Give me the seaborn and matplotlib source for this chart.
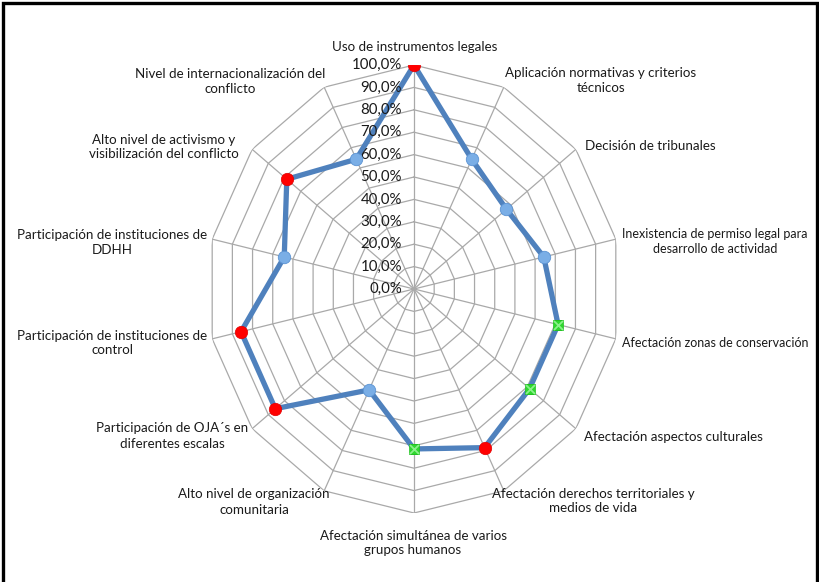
import numpy as np
import pandas as pd
import matplotlib
matplotlib.use("Agg")
import matplotlib.pyplot as plt
import matplotlib.transforms as mtransforms
from matplotlib.patches import Rectangle
import seaborn as sns

# Indicators, clockwise from the top
categories = [
    "Uso de instrumentos legales",
    "Aplicación normativas y criterios\ntécnicos",
    "Decisión de tribunales",
    "Inexistencia de permiso legal para\ndesarrollo de actividad",
    "Afectación zonas de conservación",
    "Afectación aspectos culturales",
    "Afectación derechos territoriales y\nmedios de vida",
    "Afectación simultánea de varios\ngrupos humanos",
    "Alto nivel de organización\ncomunitaria",
    "Participación de OJA´s en\ndiferentes escalas",
    "Participación de instituciones de\ncontrol",
    "Participación de instituciones de\nDDHH",
    "Alto nivel de activismo y\nvisibilización del conflicto",
    "Nivel de internacionalización del\nconflicto",
]
# share of cases (k / 14)
values = [1.000, 0.643, 0.571, 0.643, 0.714, 0.714, 0.786,
          0.714, 0.500, 0.857, 0.857, 0.643, 0.786, 0.643]
# marker class per indicator: high / medium / low
levels = ["alto", "bajo", "bajo", "bajo", "medio", "medio", "alto",
          "medio", "bajo", "alto", "alto", "bajo", "alto", "bajo"]
ring_values = [0.0, 0.1, 0.2, 0.3, 0.4, 0.5, 0.6, 0.7, 0.8, 0.9, 1.0]
ring_labels = ["0,0%", "10,0%", "20,0%", "30,0%", "40,0%", "50,0%",
               "60,0%", "70,0%", "80,0%", "90,0%", "100,0%"]

sns.set_theme(style="white")
plt.rcParams["font.family"] = ["Lato", "DejaVu Sans"]

W, H = 819, 582
fig = plt.figure(figsize=(W / 100, H / 100), dpi=100)
fig.patch.set_facecolor("white")


def fx(x):
    return x / W


def fy(y):
    return 1 - y / H


# radar area: centre (414, 289), half width 207 px, half height 224 px
cx, cy, rx, ry = 414, 289, 207, 224
ax = fig.add_axes([fx(cx - rx), fy(cy + ry), 2 * rx / W, 2 * ry / H],
                  projection="polar")
ax.set_aspect("auto")
ax.set_theta_zero_location("N")
ax.set_theta_direction(-1)
ax.set_ylim(0, 1.0)
ax.grid(False)
ax.spines["polar"].set_visible(False)
ax.set_xticks([])
ax.set_yticks([])
ax.patch.set_alpha(0)

n = len(categories)
theta = np.arange(n) * 2 * np.pi / n
theta_closed = np.append(theta, 2 * np.pi)

# polygon grid and spokes
grid_kw = dict(color="#a9a9a9", lw=0.9, zorder=1)
for r in ring_values[1:]:
    ax.plot(theta_closed, np.full(n + 1, r), **grid_kw)
for t in theta:
    ax.plot([t, t], [0, 1.0], **grid_kw)

# series line
df = pd.DataFrame({"theta": theta_closed,
                   "valor": values + [values[0]]})
sns.lineplot(data=df, x="theta", y="valor", ax=ax, sort=False,
             estimator=None, color="#4f81bd", lw=3.8, zorder=3,
             solid_joinstyle="round")

pts = pd.DataFrame({"theta": theta, "valor": values, "nivel": levels})
hi = pts[pts.nivel == "alto"]
mid = pts[pts.nivel == "medio"]
lo = pts[pts.nivel == "bajo"]
sns.scatterplot(data=hi, x="theta", y="valor", ax=ax, color="#ff0000",
                s=80, edgecolor="#e00000", linewidth=0.5, zorder=5)
sns.scatterplot(data=lo, x="theta", y="valor", ax=ax, color="#7aaee6",
                s=80, edgecolor="#5b93d3", linewidth=0.6, zorder=5)
sns.scatterplot(data=mid, x="theta", y="valor", ax=ax, color="#2ed82e",
                marker="s", s=60, edgecolor="#22c022", linewidth=0.5,
                zorder=5)
sns.scatterplot(data=mid, x="theta", y="valor", ax=ax, color="#8cf08c",
                marker="x", s=42, linewidth=1.3, zorder=6)
ax.set_xlabel("")
ax.set_ylabel("")
ax.set_xticks([])
ax.set_yticks([])
ax.set_ylim(0, 1.0)
if ax.get_legend():
    ax.get_legend().remove()

# ring value labels along the vertical spoke
lab_tr = mtransforms.offset_copy(ax.transData, fig=fig, x=-12, y=0,
                                 units="dots")
for r, s in zip(ring_values, ring_labels):
    ax.text(0, r, s, transform=lab_tr, ha="right", va="center",
            fontsize=10.8, color="#1a1a1a", zorder=4)

# category labels (anchor in pixels, alignment, size)
label_pos = [
    (415, 47, "center", 9.6),
    (601, 81, "center", 9.6),
    (585, 146, "left", 9.6),
    (622, 241, "left", 9.0),
    (622, 343, "left", 9.0),
    (584, 437, "left", 9.6),
    (593, 501, "center", 9.6),
    (413, 543, "center", 9.6),
    (254, 502, "center", 9.6),
    (172, 436, "center", 9.6),
    (112, 343, "center", 9.6),
    (112, 242, "center", 9.6),
    (164, 147, "center", 9.6),
    (230, 82, "center", 9.6),
]
for text, (x, y, ha, fs) in zip(categories, label_pos):
    fig.text(fx(x), fy(y), text, ha=ha, va="center", fontsize=fs,
             color="#1a1a1a", multialignment="center", linespacing=1.3)

# outer frame
fig.add_artist(Rectangle((fx(3), fy(600)), fx(817) - fx(3), fy(3) - fy(600),
                         transform=fig.transFigure, fill=False,
                         edgecolor="black", lw=2.4, zorder=10))

fig.savefig("out.png", dpi=100)
